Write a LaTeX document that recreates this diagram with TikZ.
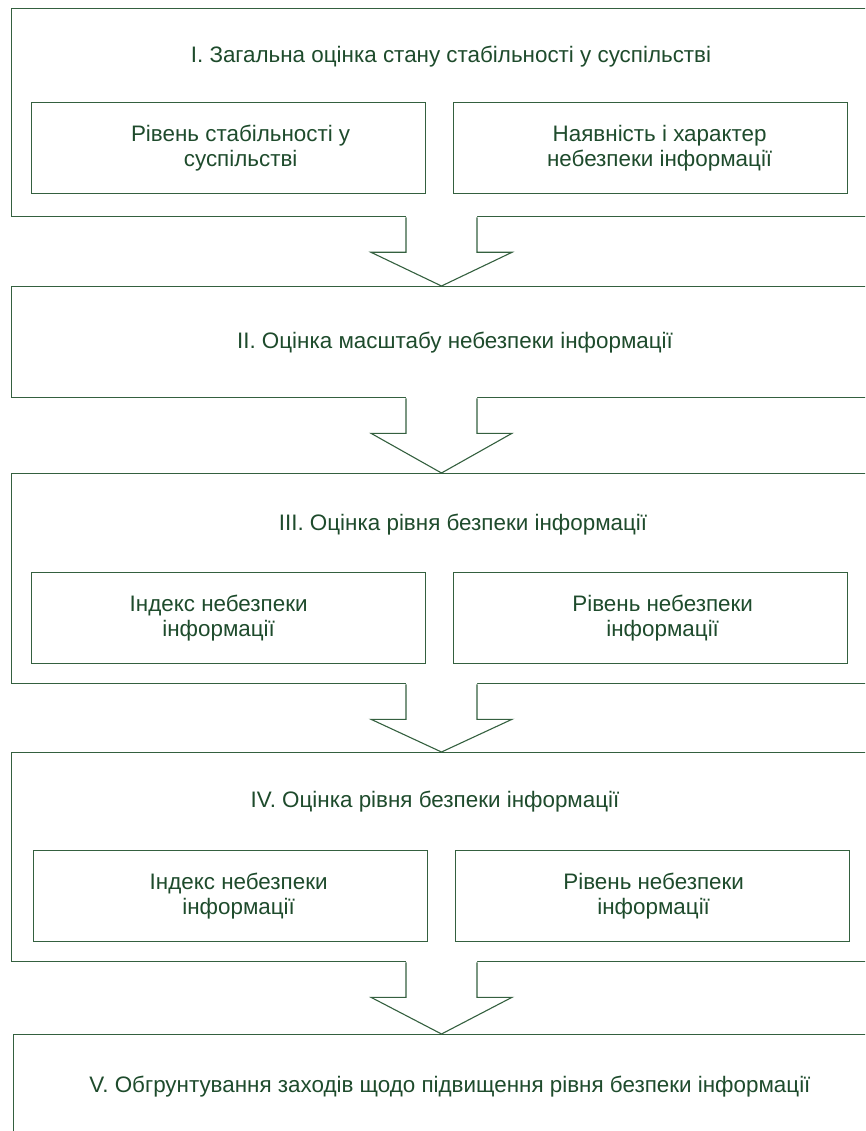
\documentclass[tikz,border=0pt]{standalone}
\usepackage{fontspec}
\setmainfont{Liberation Sans}
\usetikzlibrary{calc}
\definecolor{ink}{HTML}{1E4B2C}
\definecolor{rule}{HTML}{34603F}
\begin{document}
\begin{tikzpicture}[x=1pt,y=-1pt,
  txt/.style={text=ink,font=\fontsize{22.4}{25.5}\selectfont,align=center},
  stage/.style={draw=rule,line width=1.3pt,fill=white,anchor=north west,inner sep=0pt},
  part/.style={draw=rule,line width=1.3pt,anchor=north west,inner sep=0pt,
               minimum width=394pt,minimum height=91pt},
  arrowline/.style={draw=rule,line width=1.1pt,line join=miter}]
\useasboundingbox (0,0) rectangle (865,1131);
\clip (0,0) rectangle (865,1131);

% stage frames (they run on past the right edge)
\node[stage,minimum width=880pt,minimum height=208pt] (s1) at (11,8) {};
\node[stage,minimum width=880pt,minimum height=111pt] (s2) at (11,286) {};
\node[stage,minimum width=880pt,minimum height=210pt] (s3) at (11,473) {};
\node[stage,minimum width=880pt,minimum height=209pt] (s4) at (11,752) {};
\node[stage,minimum width=880pt,minimum height=140pt] (s5) at (13,1034) {};

% stage titles
\node[txt] (t1) at (451,57) {І. Загальна оцінка стану стабільності у суспільстві};
\node[txt] (t2) at (455,343) {ІІ. Оцінка масштабу небезпеки інформації};
\node[txt] (t3) at (463,525) {ІІІ. Оцінка рівня безпеки інформації};
\node[txt] (t4) at (435,802) {IV. Оцінка рівня безпеки інформації};
\node[txt] (t5) at (450,1087) {V. Обгрунтування заходів щодо підвищення рівня безпеки інформації};

% inner boxes
\node[part] (a1) at (31,102) {};
\node[part] (b1) at (453,102) {};
\node[part] (a3) at (31,572) {};
\node[part] (b3) at (453,572) {};
\node[part] (a4) at (33,850) {};
\node[part] (b4) at (455,850) {};

\node[txt] (a1t) at ($(a1.center)+(12,0)$) {Рівень стабільності у\\суспільстві};
\node[txt] (b1t) at ($(b1.center)+(9,0)$) {Наявність і характер\\небезпеки інформації};
\node[txt] (a3t) at ($(a3.center)+(-10,0)$) {Індекс небезпеки\\інформації};
\node[txt] (b3t) at ($(b3.center)+(12,0)$) {Рівень небезпеки\\інформації};
\node[txt] (a4t) at ($(a4.center)+(8,0)$) {Індекс небезпеки\\інформації};
\node[txt] (b4t) at ($(b4.center)+(1,0)$) {Рівень небезпеки\\інформації};

% block arrows between stages
\coordinate (ax) at (441.5,0);
\newcommand\blockarrow[2]{%
  \fill[white] ($(#1.south -| ax)+(-35.5,-1.5)$) -- ($(#1.south -| ax)+(-35.5,35)$)
    -- ($(#1.south -| ax)+(-70.5,35)$) -- (#2.north -| ax)
    -- ($(#1.south -| ax)+(70.5,35)$) -- ($(#1.south -| ax)+(35.5,35)$)
    -- ($(#1.south -| ax)+(35.5,-1.5)$) -- cycle;
  \draw[arrowline] ($(#1.south -| ax)+(-35.5,0)$) -- ($(#1.south -| ax)+(-35.5,35)$)
    -- ($(#1.south -| ax)+(-70.5,35)$) -- (#2.north -| ax)
    -- ($(#1.south -| ax)+(70.5,35)$) -- ($(#1.south -| ax)+(35.5,35)$)
    -- ($(#1.south -| ax)+(35.5,0)$);}
\blockarrow{s1}{s2}
\blockarrow{s2}{s3}
\blockarrow{s3}{s4}
\blockarrow{s4}{s5}
\end{tikzpicture}
\end{document}
